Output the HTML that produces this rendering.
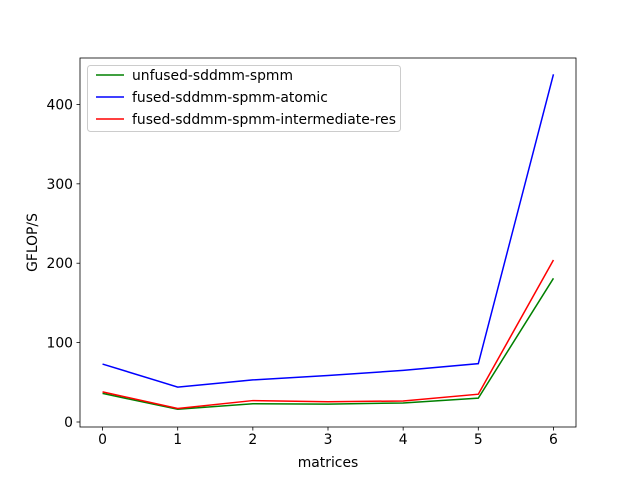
<!DOCTYPE html>
<html><head><meta charset="utf-8"><style>body{margin:0;background:#fff}svg{display:block;font-family:"DejaVu Sans","Liberation Sans",sans-serif}</style></head>
<body>
<svg id="chart" width="640" height="480"></svg>
<script>
const categories=[0,1,2,3,4,5,6];
const unfused=[36,16,23,22.5,24,30,181];
const atomic=[73,44,53,58.5,65,73.5,438];
const intermediate=[38,17,27,25.5,26.5,35,204];
const yTicks=[0,100,200,300,400];
const seriesNames=["unfused-sddmm-spmm","fused-sddmm-spmm-atomic","fused-sddmm-spmm-intermediate-res"];
const seriesColors=["green","blue","red"];

const NS="http://www.w3.org/2000/svg";
const svg=document.getElementById('chart');
const L=80,R=576,T=58,B=427;
const xMin=-0.3,xMax=6.3,yMin=-6.3,yMax=458.5;
const xs=v=>L+(v-xMin)/(xMax-xMin)*(R-L);
const ys=v=>B-(v-yMin)/(yMax-yMin)*(B-T);
function mk(tag,attrs,parent){const e=document.createElementNS(NS,tag);for(const k in attrs)e.setAttribute(k,attrs[k]);(parent||svg).appendChild(e);return e;}

const series=[unfused,atomic,intermediate];
series.forEach((s,i)=>{
  const p=mk('polyline',{points:s.map((v,j)=>xs(categories[j])+','+ys(v)).join(' '),fill:'none',stroke:seriesColors[i],'stroke-width':1.5});
  
  
});

const frame=mk('rect',{x:L,y:T,width:R-L,height:B-T,fill:'none',stroke:'#000','stroke-width':0.8});



categories.forEach(c=>{
  const x=xs(c);
  mk('line',{x1:x,x2:x,y1:B,y2:B+3.5,stroke:'#000','stroke-width':0.8});
  const t=mk('text',{x:x,y:B+17,'text-anchor':'middle','font-size':13.9});
  t.textContent=c;
  
  
});
yTicks.forEach(v=>{
  const y=ys(v);
  mk('line',{x1:L-3.5,x2:L,y1:y,y2:y,stroke:'#000','stroke-width':0.8});
  const t=mk('text',{x:L-7,y:y+5,'text-anchor':'end','font-size':13.9});
  t.textContent=v;
  
  
});
const xt=mk('text',{x:(L+R)/2,y:467,'text-anchor':'middle','font-size':13.9});
xt.textContent='matrices';


const yt=mk('text',{x:37,y:(T+B)/2,'text-anchor':'middle','font-size':13.9,transform:'rotate(-90 37 '+((T+B)/2)+')'});
yt.textContent='GFLOP/S';



const lg=mk('g',{});


mk('rect',{x:87.5,y:65.5,width:313,height:66,rx:3,fill:'#fff','fill-opacity':0.8,stroke:'#ccc'},lg);
seriesNames.forEach((n,i)=>{
  const y=75+i*22;
  const ln=mk('line',{x1:96,x2:124,y1:y,y2:y,stroke:seriesColors[i],'stroke-width':1.5},lg);
  
  
  const t=mk('text',{x:132,y:y+5,'font-size':13.9},lg);
  t.textContent=n;
  
  
});
</script>
</body></html>
